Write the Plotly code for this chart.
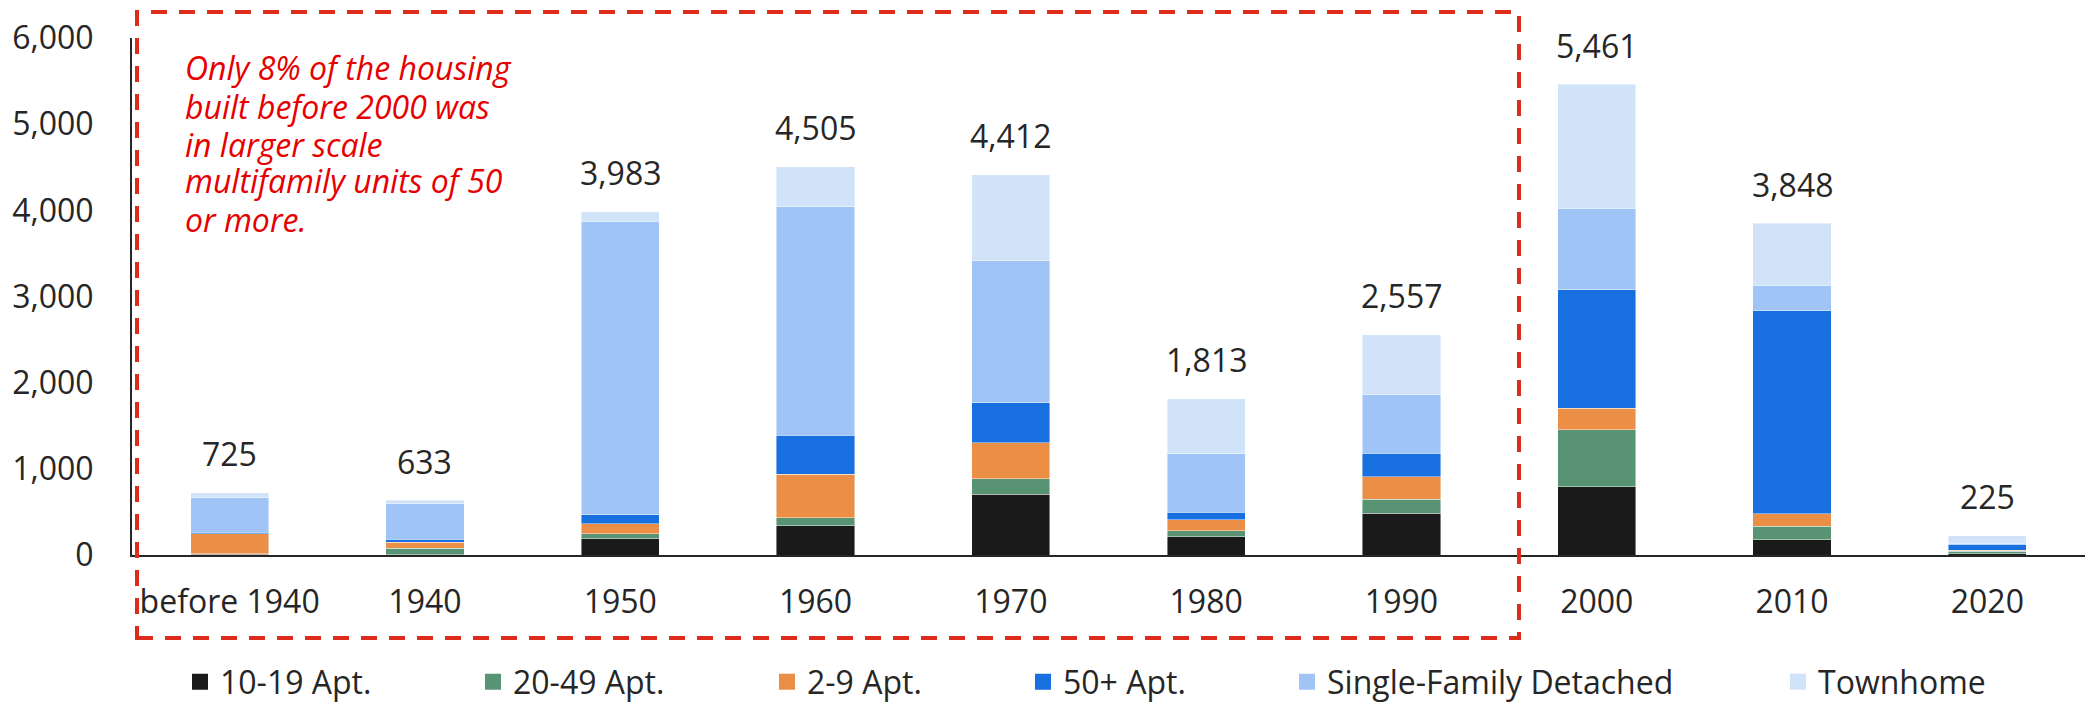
import plotly.graph_objects as go

categories = ['before 1940', '1940', '1950', '1960', '1970', '1980', '1990', '2000', '2010', '2020']
apt_10_19 = [8, 3, 187, 342, 707, 209, 484, 791, 178, 13]
apt_20_49 = [5, 78, 58, 93, 178, 71, 164, 662, 156, 31]
apt_2_9 = [235, 66, 120, 502, 418, 129, 262, 249, 142, 13]
apt_50_plus = [15, 35, 102, 453, 462, 89, 271, 1377, 2360, 67]
single_family = [410, 420, 3409, 2649, 1649, 676, 684, 946, 293, 13]
townhome = [52, 31, 107, 466, 998, 639, 692, 1436, 719, 88]

series_names = ['10-19 Apt.', '20-49 Apt.', '2-9 Apt.', '50+ Apt.', 'Single-Family Detached', 'Townhome']
series_values = [apt_10_19, apt_20_49, apt_2_9, apt_50_plus, single_family, townhome]
series_colors = ['#1a1a1a', '#589474', '#eb8f47', '#176fe0', '#a0c4f5', '#d1e3f9']

note_lines = ['Only 8% of the housing', 'built before 2000 was', 'in larger scale',
              'multifamily units of 50', 'or more.']

W, H = 2085, 703
ML, MR, MT, MB = 132, 0, 38, 148
PW = W - ML - MR
PH = H - MT - MB

def px_x(px):
    return (px - ML) / PW

def px_y(py):
    return (H - MB - py) / PH

FONT = 'Open Sans'
FS = 32
TXT = '#262626'

fig = go.Figure()

for name, vals, col in zip(series_names, series_values, series_colors):
    fig.add_trace(go.Bar(
        x=categories, y=vals, name=name, showlegend=False,
        marker=dict(color=col, line=dict(width=0.8, color='rgba(255,255,255,0.55)')),
    ))

# legend entries (one legend per item for exact placement)
legend_centers = [202, 495, 789, 1045, 1309, 1800]
layout_legends = {}
for i, (name, col) in enumerate(zip(series_names, series_colors)):
    key = 'legend' if i == 0 else f'legend{i + 1}'
    fig.add_trace(go.Scatter(
        x=[None], y=[None], mode='markers', name=name, legend=key,
        marker=dict(symbol='square', size=20, color=col),
        showlegend=True,
    ))
    layout_legends[key] = dict(
        orientation='h', x=px_x(legend_centers[i] - 22), xanchor='left',
        y=px_y(682), yanchor='middle', bgcolor='rgba(0,0,0,0)', borderwidth=0,
        font=dict(family=FONT, size=FS, color=TXT), itemwidth=30,
    )

totals = [sum(v) for v in zip(*series_values)]
annotations = []
for i, t in enumerate(totals):
    annotations.append(dict(
        x=i, y=t, xref='x', yref='y', text=f'{t:,}', showarrow=False,
        yanchor='middle', yshift=39,
        font=dict(family=FONT, size=FS, color=TXT),
    ))

note_centers = [68, 106, 144, 181, 219]
for line, cy in zip(note_lines, note_centers):
    annotations.append(dict(
        x=px_x(183), y=px_y(cy), xref='paper', yref='paper', text=line,
        showarrow=False, xanchor='left', yanchor='middle', align='left',
        font=dict(family=FONT, size=FS, color='#e60000', style='italic'),
    ))

fig.update_layout(
    width=W, height=H,
    margin=dict(l=ML, r=MR, t=MT, b=MB, pad=0, autoexpand=False),
    paper_bgcolor='white', plot_bgcolor='white',
    barmode='stack', bargap=0.6,
    font=dict(family=FONT, size=FS, color=TXT),
    annotations=annotations,
    shapes=[dict(
        type='rect', xref='paper', yref='paper',
        x0=px_x(137), x1=px_x(1519), y0=px_y(638), y1=px_y(12),
        line=dict(color='#dd2c1c', width=4, dash='16px,12px'),
        fillcolor='rgba(0,0,0,0)',
    )],
    **layout_legends,
)

fig.update_xaxes(
    type='category', categoryorder='array', categoryarray=categories,
    range=[-0.5, len(categories) - 0.5], automargin=False,
    showline=True, linecolor='#262626', linewidth=2,
    showgrid=False, ticks='', ticklabelstandoff=18,
    tickfont=dict(family=FONT, size=FS, color=TXT),
    zeroline=False,
)
fig.update_yaxes(
    range=[0, 6000], tick0=0, dtick=1000, tickformat=',', automargin=False,
    showline=True, linecolor='#262626', linewidth=2,
    showgrid=False, zeroline=False, ticks='', ticklabelstandoff=30,
    tickfont=dict(family=FONT, size=FS, color=TXT),
)

fig.write_html('out.html', config={'displayModeBar': False},
               post_script="document.body.style.margin='0';document.body.style.overflow='hidden';")
